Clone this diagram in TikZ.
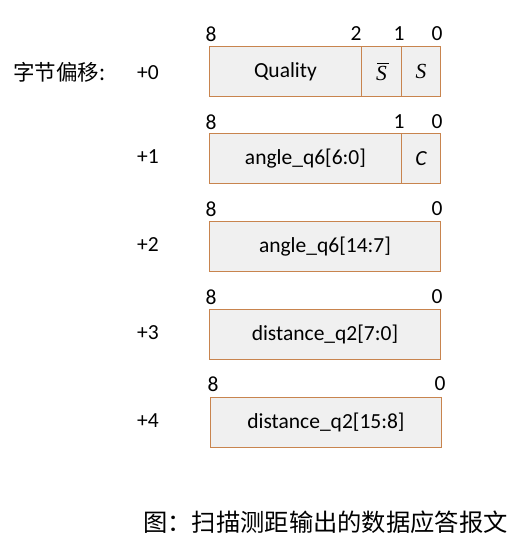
\documentclass[tikz,border=0pt]{standalone}
\usepackage{fontspec}
\setmainfont{Carlito}
\newfontfamily\cjk{Noto Sans CJK SC}
\newfontfamily\serifit{Liberation Serif}
\begin{document}
\begin{tikzpicture}[x=1pt,y=-1pt,
  cell/.style={draw=cellborder, fill=cellfill, line width=0.9pt, minimum height=50pt, inner sep=0pt, anchor=north west, font=\fontsize{21.5}{24}\selectfont},
  bitlbl/.style={font=\fontsize{21.5}{24}\selectfont, inner sep=0pt},
  offlbl/.style={font=\fontsize{21.5}{24}\selectfont, inner sep=0pt, anchor=west}]
\definecolor{cellborder}{HTML}{C8844E}
\definecolor{cellfill}{HTML}{F0F0F0}
\useasboundingbox (0,0) rectangle (516,552);
\fill[white] (0,0) rectangle (516,552);
% row labels
\node[font=\cjk\fontsize{21.5}{24}\selectfont, anchor=west, inner sep=0pt] (title) at (13,72) {字节偏移:};
\node[offlbl] (o0) at (137,73) {+0};
\node[offlbl] (o1) at (137,157) {+1};
\node[offlbl] (o2) at (137,245) {+2};
\node[offlbl] (o3) at (137,333) {+3};
\node[offlbl] (o4) at (137,421) {+4};
% row 0
\node[cell, minimum width=152pt] (q) at (209,46) {Quality};
\node[cell, minimum width=40pt] (sb) at (361,46) {};
\node[font=\serifit\itshape\fontsize{21.5}{24}\selectfont, inner sep=0pt] (sbt) at ([yshift=-2pt]sb.center) {S};
\draw[line width=0.8pt] ([xshift=1.5pt,yshift=2.5pt]sbt.north west) -- ([xshift=1.5pt,yshift=2.5pt]sbt.north east);
\node[cell, minimum width=39pt, font=\serifit\itshape\fontsize{21.5}{24}\selectfont] (s) at (401,46) {S};
\node[bitlbl] (b08) at (211,34) {8};
\node[bitlbl] (b02) at (356,34) {2};
\node[bitlbl] (b01) at (399,34) {1};
\node[bitlbl] (b00) at (437,34) {0};
% row 1
\node[cell, minimum width=192pt] (a1) at (209,133) {angle\_q6[6:0]};
\node[cell, minimum width=39pt] (c) at (401,133) {\itshape C};
\node[bitlbl] (b18) at (211,122) {8};
\node[bitlbl] (b11) at (399,122) {1};
\node[bitlbl] (b10) at (437,122) {0};
% row 2
\node[cell, minimum width=231pt] (a2) at (209,221) {angle\_q6[14:7]};
\node[bitlbl] (b28) at (211,209) {8};
\node[bitlbl] (b20) at (437,209) {0};
% row 3
\node[cell, minimum width=231pt] (d1) at (209,309) {distance\_q2[7:0]};
\node[bitlbl] (b38) at (211,297) {8};
\node[bitlbl] (b30) at (437,297) {0};
% row 4
\node[cell, minimum width=231pt] (d2) at (210,397) {distance\_q2[15:8]};
\node[bitlbl] (b48) at (213,384) {8};
\node[bitlbl] (b40) at (440,384) {0};
% caption
\node[font=\cjk\fontsize{24.3}{28}\selectfont, anchor=west, inner sep=0pt] (cap) at (143,522) {图：扫描测距输出的数据应答报文};
\end{tikzpicture}
\end{document}
